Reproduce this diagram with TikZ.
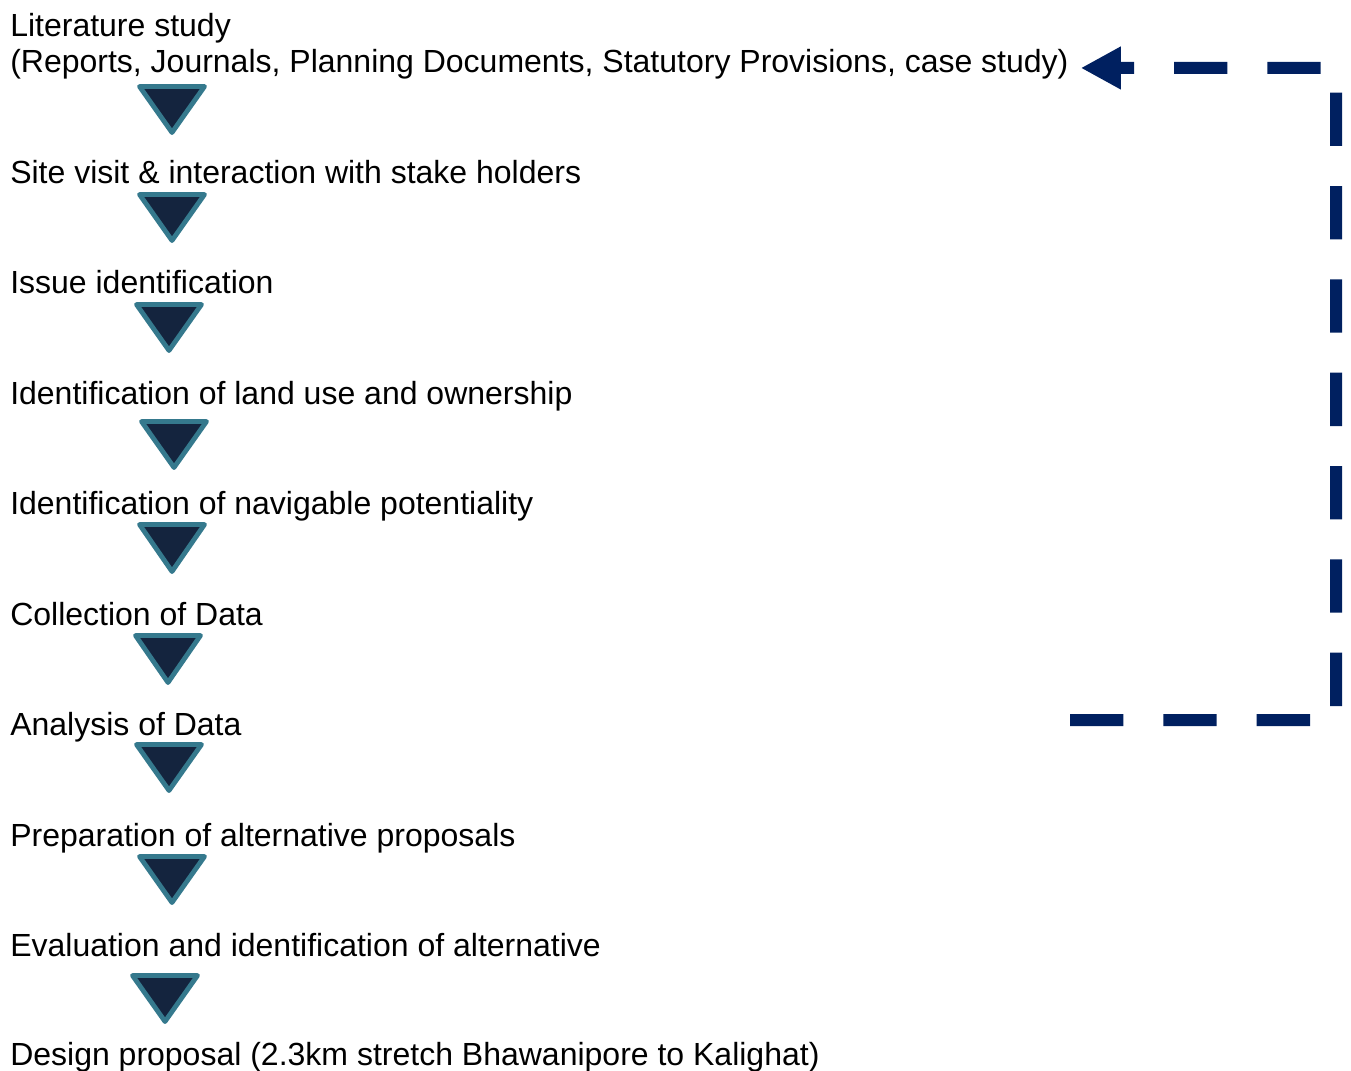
\documentclass[tikz,border=0pt]{standalone}
\usepackage{fontspec}
\setmainfont{Liberation Sans}
\usetikzlibrary{arrows.meta}
\definecolor{navy}{HTML}{002060}
\definecolor{trifill}{HTML}{14243E}
\definecolor{triline}{HTML}{35798D}
\newcommand\downtri[3]{\draw[tri] (#1-32.5,#2+2.5) -- (#1+32.5,#2+2.5) -- (#1,#3-3.5) -- cycle;}
\begin{document}
\begin{tikzpicture}[x=0.75pt,y=-0.75pt,
  steptext/.style={anchor=base west,inner sep=0pt,font=\fontsize{24pt}{27pt}\selectfont},
  tri/.style={draw=triline,fill=trifill,line width=3.6pt,line join=round},
  loop/.style={draw=navy,line width=9pt,dash pattern=on 40pt off 30pt,
    -{Triangle[length=30pt,width=30pt]}}]
\useasboundingbox (0,0) rectangle (1351,1070);
\node[steptext] (lit1) at (10,36.5) {Literature study};
\node[steptext] (lit2) at (10,72.5) {(Reports, Journals, Planning Documents, Statutory Provisions, case study)};
\node[steptext] (site) at (10,183.5) {Site visit \& interaction with stake holders};
\node[steptext] (issue) at (10,293.5) {Issue identification};
\node[steptext] (land) at (10,404.5) {Identification of land use and ownership};
\node[steptext] (nav) at (10,514.5) {Identification of navigable potentiality};
\node[steptext] (coll) at (10,625.5) {Collection of Data};
\node[steptext] (anal) at (10,735.5) {Analysis of Data};
\node[steptext] (prep) at (10,846.5) {Preparation of alternative proposals};
\node[steptext] (eval) at (10,956.5) {Evaluation and identification of alternative};
\node[steptext] (design) at (10,1065.5) {Design proposal (2.3km stretch Bhawanipore to Kalighat)};
\downtri{172}{84}{136}
\downtri{172}{192}{244}
\downtri{169}{302}{354}
\downtri{174}{419}{471}
\downtri{172}{522}{575}
\downtri{168}{633}{686}
\downtri{169}{742}{794}
\downtri{172}{854}{906}
\downtri{165}{973}{1025}
\coordinate (loopstart) at (1070,720);
\draw[loop] (loopstart) -- (1336,720) -- (1336,68) -- ([xshift=9pt,yshift=3.4pt]lit2.base east);
\end{tikzpicture}
\end{document}
